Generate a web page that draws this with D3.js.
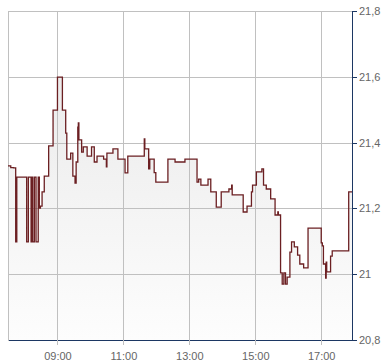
<!DOCTYPE html>
<html>
<head>
<meta charset="utf-8">
<script src="https://cdn.jsdelivr.net/npm/d3@7"></script>
<style>
  body { margin: 0; background: #fff; }
  svg text { font-family: "Liberation Sans", Arial, sans-serif; font-size: 11px; fill: #666; }
</style>
</head>
<body>
<svg id="chart" width="390" height="364"></svg>
<script>
// Intraday price steps (time, price)
var times = ["07:30","07:35","07:40","07:44","07:46","08:04","08:07","08:12","08:14","08:15",
    "08:18","08:21","08:25","08:27","08:29","08:32","08:36","08:44","08:52","09:00",
    "09:09","09:15","09:17","09:24","09:28","09:32","09:34","09:37","09:38","09:39",
    "09:44","09:47","09:54","10:02","10:07","10:12","10:24","10:29","10:30","10:41",
    "10:50","11:03","11:08","11:38","11:39","11:46","11:48","11:56","11:59","12:21",
    "12:34","12:52","13:14","13:17","13:21","13:34","13:39","13:49","13:58","14:12",
    "14:17","14:18","14:38","14:45","14:53","14:55","15:02","15:12","15:15","15:20",
    "15:28","15:36","15:41","15:42","15:46","15:49","15:52","15:55","15:58","16:03",
    "16:06","16:11","16:17","16:21","16:28","16:36","17:00","17:02","17:04","17:08",
    "17:09","17:10","17:17","17:20","17:50","17:56"];
var prices = [21.329,21.324,21.323,21.098,21.295,21.098,21.295,21.098,21.295,21.098,
    21.295,21.098,21.295,21.201,21.207,21.250,21.298,21.390,21.499,21.599,
    21.499,21.429,21.350,21.368,21.298,21.277,21.341,21.447,21.460,21.408,
    21.371,21.387,21.359,21.387,21.341,21.359,21.350,21.326,21.368,21.381,
    21.350,21.308,21.359,21.411,21.381,21.320,21.350,21.309,21.280,21.350,
    21.341,21.350,21.280,21.289,21.271,21.289,21.250,21.204,21.250,21.259,
    21.271,21.241,21.189,21.207,21.250,21.271,21.311,21.320,21.271,21.259,
    21.229,21.180,21.189,21.180,21.004,20.970,21.004,20.970,20.991,21.067,
    21.098,21.083,21.058,21.031,21.019,21.140,21.095,21.086,21.031,20.988,
    21.037,21.007,21.055,21.071,21.250,21.250];

var xTickLabels = ["09:00","11:00","13:00","15:00","17:00"];
var yTickValues = [20.8, 21, 21.2, 21.4, 21.6, 21.8];
var timeStart = "07:30", timeEnd = "17:56";

var parseTime = d3.timeParse("%H:%M");
var data = times.map(function (t, i) { return {t: parseTime(t), v: prices[i]}; });

var svg = d3.select("#chart");
var plotLeft = 8, plotRight = 352, plotTop = 11, plotBottom = 340;

var x = d3.scaleTime()
    .domain([parseTime(timeStart), parseTime(timeEnd)])
    .range([plotLeft, plotRight]);
var y = d3.scaleLinear()
    .domain([20.8, 21.8])
    .range([plotBottom, plotTop]);

// Area gradient
var defs = svg.append("defs");
var grad = defs.append("linearGradient")
    .attr("id", "areaFill")
    .attr("x1", 0).attr("y1", 0).attr("x2", 0).attr("y2", 1);
grad.append("stop").attr("offset", "0%").attr("stop-color", "#ebebeb");
grad.append("stop").attr("offset", "100%").attr("stop-color", "#fdfdfd");

var area = d3.area()
    .curve(d3.curveStepAfter)
    .x(function (d) { return x(d.t); })
    .y0(plotBottom)
    .y1(function (d) { return y(d.v); });

svg.append("path")
    .datum(data)
    .attr("d", area)
    .attr("fill", "url(#areaFill)");

// Grid
var grid = svg.append("g").attr("shape-rendering", "crispEdges");
grid.selectAll(".hgrid")
    .data(yTickValues)
    .enter().append("line")
    .attr("x1", plotLeft).attr("x2", plotRight)
    .attr("y1", function (d) { return Math.round(y(d)) + 0.5; })
    .attr("y2", function (d) { return Math.round(y(d)) + 0.5; })
    .attr("stroke", "#c0c0c0");
grid.selectAll(".vgrid")
    .data(xTickLabels)
    .enter().append("line")
    .attr("x1", function (d) { return Math.round(x(parseTime(d))) + 0.5; })
    .attr("x2", function (d) { return Math.round(x(parseTime(d))) + 0.5; })
    .attr("y1", plotTop).attr("y2", plotBottom)
    .attr("stroke", "#c0c0c0");
grid.append("line")
    .attr("x1", plotLeft + 0.5).attr("x2", plotLeft + 0.5)
    .attr("y1", plotTop).attr("y2", plotBottom)
    .attr("stroke", "#c0c0c0");

// Price line
var line = d3.line()
    .curve(d3.curveStepAfter)
    .x(function (d) { return x(d.t); })
    .y(function (d) { return y(d.v); });

svg.append("path")
    .datum(data)
    .attr("d", line)
    .attr("fill", "none")
    .attr("stroke", "#6b1f22")
    .attr("stroke-width", 1.3);

// Bottom axis
var xAxis = d3.axisBottom(x)
    .tickValues(xTickLabels.map(parseTime))
    .tickFormat(d3.timeFormat("%H:%M"))
    .tickSize(5)
    .tickSizeOuter(0);
var gx = svg.append("g")
    .attr("transform", "translate(0," + plotBottom + ")")
    .call(xAxis);
gx.attr("font-family", null).attr("font-size", null);
gx.select(".domain").attr("stroke", "#1c3763").attr("shape-rendering", "crispEdges");
gx.selectAll(".tick line").attr("stroke", "#c0c0c0").attr("shape-rendering", "crispEdges");
gx.selectAll(".tick text").attr("fill", null).attr("dy", "1.1em");

// Right axis
var yAxis = d3.axisRight(y)
    .tickValues(yTickValues)
    .tickFormat(function (d) { return String(+d.toFixed(1)).replace(".", ","); })
    .tickSize(5)
    .tickSizeOuter(0)
    .tickPadding(2);
var gy = svg.append("g")
    .attr("transform", "translate(" + plotRight + ",0)")
    .call(yAxis);
gy.attr("font-family", null).attr("font-size", null);
gy.select(".domain").attr("stroke", "#1c3763").attr("shape-rendering", "crispEdges");
gy.selectAll(".tick line").attr("stroke", "#1c3763").attr("shape-rendering", "crispEdges");
gy.selectAll(".tick text").attr("fill", null);
</script>
</body>
</html>
